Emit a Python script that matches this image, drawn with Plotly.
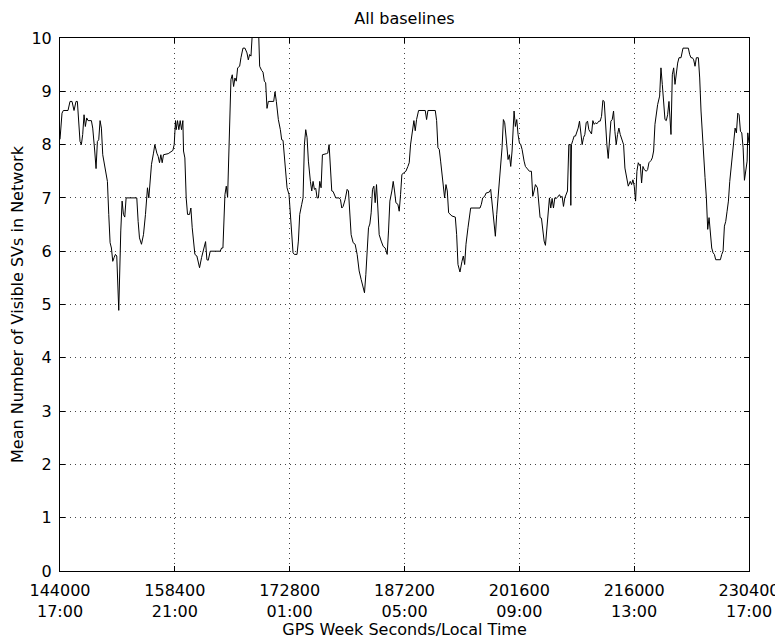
import plotly.graph_objects as go

# GPS week seconds (x) and mean number of visible SVs (y)
gps_sec = [
    144000, 144251, 144419, 145005, 145256, 145508, 145759, 146010, 146177, 146345,
    146512, 146680, 146847, 147015, 147182, 147350, 147517, 147936, 148103, 148355,
    148522, 148690, 148857, 149025, 149192, 149360, 149695, 149946, 150113, 150281,
    150448, 150616, 150783, 150951, 151118, 151369, 151621, 151788, 151956, 152123,
    152291, 153630, 153798, 153965, 154217, 154468, 154719, 154970, 155138, 155305,
    155473, 155724, 155891, 156143, 156310, 156478, 156645, 156813, 156980, 157566,
    157817, 158152, 158320, 158487, 158569, 158737, 158904, 159072, 159239, 159407,
    159490, 159658, 159825, 159993, 160244, 160412, 160579, 160746, 160914, 161165,
    161333, 161500, 161751, 162002, 162254, 162421, 162589, 162840, 164098, 164263,
    164431, 164682, 164850, 165017, 165436, 165603, 165771, 165938, 166106, 166273,
    166525, 166692, 166943, 167194, 167446, 167613, 167781, 167948, 168199, 168869,
    169037, 169288, 169455, 169623, 169790, 169958, 170125, 170795, 170962, 171130,
    171381, 171632, 171800, 171967, 172135, 172302, 172470, 172721, 173055, 173223,
    173390, 173725, 173893, 174060, 174312, 174479, 174647, 174814, 174982, 175149,
    175400, 175568, 175735, 175903, 176070, 176238, 176405, 176573, 176740, 176908,
    177410, 177577, 177745, 177912, 178080, 178247, 178415, 178582, 179001, 179169,
    179336, 179503, 179755, 180006, 180173, 180341, 180508, 180760, 181011, 181262,
    181513, 181764, 182016, 182183, 182351, 182518, 182686, 182853, 183021, 183188,
    183356, 183523, 183690, 183858, 184025, 184277, 184528, 184779, 185030, 185198,
    185365, 185616, 185784, 185951, 186119, 186370, 186537, 186705, 186872, 187124,
    187375, 187625, 187793, 187960, 188212, 188379, 188547, 188714, 188965, 189803,
    189970, 190138, 191059, 191226, 191394, 191561, 191729, 191980, 192231, 192399,
    192566, 192734, 192901, 193152, 193571, 193739, 193906, 194157, 194408, 194576,
    194743, 194911, 195162, 195330, 195497, 196669, 196837, 197004, 197256, 197423,
    197842, 198009, 198260, 198428, 198595, 198763, 198930, 199182, 199433, 199600,
    199768, 200019, 200186, 200354, 200521, 200689, 200856, 200940, 201107, 201275,
    201442, 201610, 201777, 201945, 202196, 202362, 202529, 202697, 202864, 203116,
    203283, 203451, 203618, 203869, 204037, 204204, 204372, 204539, 204707, 204874,
    205042, 205209, 205377, 205544, 205712, 205879, 206047, 206214, 206381, 206633,
    206800, 206968, 207135, 207303, 207470, 207638, 207805, 207973, 208056, 208140,
    208307, 208475, 208642, 208810, 208977, 209145, 209312, 209480, 209647, 209815,
    209982, 210150, 210317, 210485, 210652, 210820, 210987, 211155, 211322, 211573,
    211741, 211908, 212076, 212243, 212411, 212578, 212746, 212913, 213081, 213248,
    213416, 213583, 213751, 213918, 214086, 214253, 214504, 214672, 214839, 215007,
    215258, 215509, 215677, 215844, 216012, 216179, 216347, 216514, 216682, 216764,
    216932, 217099, 217267, 217518, 217686, 217853, 218104, 218272, 218439, 218607,
    218774, 218942, 219193, 219360, 219528, 219695, 219863, 220030, 220198, 220365,
    220533, 220617, 220784, 220952, 221119, 221287, 221454, 221621, 221873, 222124,
    222794, 222961, 223129, 223296, 223464, 223631, 223799, 224050, 224217, 224385,
    224552, 224720, 224887, 225055, 225222, 225390, 225557, 225725, 225892, 226060,
    226227, 226813, 226981, 227148, 227316, 227483, 227651, 227818, 227986, 228153,
    228321, 228488, 228656, 228823, 228991, 229158, 229326, 229493, 229661, 229828,
    229996, 230163, 230247, 230400,
]
mean_svs = [
    8.10, 8.59, 8.64, 8.64, 8.81, 8.81, 8.64, 8.81, 8.81, 8.44,
    8.06, 8.00, 8.19, 8.56, 8.34, 8.50, 8.45, 8.45, 8.31, 7.88,
    7.55, 8.06, 8.09, 8.45, 8.31, 7.81, 7.50, 7.31, 6.69, 6.16,
    6.06, 5.81, 5.88, 5.94, 5.91, 4.89, 6.38, 6.94, 6.69, 6.64,
    7.00, 7.00, 6.56, 6.25, 6.13, 6.31, 6.69, 7.19, 7.00, 7.31,
    7.63, 7.84, 8.00, 7.84, 7.78, 7.66, 7.81, 7.66, 7.81, 7.83,
    7.86, 7.89, 8.00, 8.45, 8.28, 8.45, 8.28, 8.45, 8.28, 8.45,
    7.88, 7.75, 7.00, 6.69, 6.69, 6.81, 6.44, 6.19, 5.94, 5.91,
    5.81, 5.69, 5.88, 6.03, 6.18, 5.84, 5.83, 6.00, 6.00, 6.06,
    6.06, 7.06, 7.22, 7.01, 9.22, 9.31, 9.09, 9.25, 9.19, 9.44,
    9.47, 9.63, 9.81, 9.81, 9.72, 9.59, 9.69, 9.66, 10.30, 10.30,
    9.47, 9.39, 9.36, 9.19, 9.16, 8.68, 8.81, 8.81, 8.99, 8.81,
    8.47, 8.28, 8.09, 8.08, 7.75, 7.44, 7.19, 7.06, 6.31, 5.97,
    5.94, 5.94, 6.19, 6.69, 6.88, 7.00, 8.00, 8.28, 8.13, 7.69,
    7.31, 7.13, 7.31, 7.16, 7.18, 7.00, 7.00, 7.31, 7.19, 7.81,
    7.83, 7.84, 8.00, 7.56, 7.13, 7.12, 7.06, 7.00, 7.00, 6.97,
    6.81, 6.84, 6.97, 7.16, 7.13, 6.75, 6.31, 6.16, 6.13, 5.94,
    5.63, 5.47, 5.31, 5.22, 5.56, 6.06, 6.44, 6.51, 6.72, 7.16,
    7.22, 6.91, 7.25, 6.81, 6.31, 6.19, 6.09, 6.06, 5.94, 6.38,
    6.94, 7.13, 7.31, 7.13, 6.91, 6.88, 6.75, 7.06, 7.44, 7.47,
    7.50, 7.59, 7.66, 8.00, 8.33, 8.45, 8.26, 8.47, 8.64, 8.64,
    8.47, 8.64, 8.64, 8.45, 7.94, 7.91, 7.69, 7.31, 7.00, 7.25,
    7.13, 6.72, 6.69, 6.66, 6.64, 6.31, 5.75, 5.61, 5.81, 5.91,
    5.75, 6.13, 6.44, 6.63, 6.81, 6.81, 6.88, 7.00, 7.03, 7.09,
    7.11, 7.16, 6.81, 6.50, 6.28, 6.69, 7.00, 7.38, 7.94, 8.47,
    8.41, 8.00, 7.72, 7.81, 7.59, 7.88, 8.31, 8.63, 8.34, 8.47,
    8.19, 8.03, 8.00, 7.91, 7.69, 7.59, 7.56, 7.53, 7.50, 7.50,
    7.03, 7.13, 7.25, 7.19, 6.94, 6.63, 6.62, 6.38, 6.19, 6.11,
    6.44, 6.81, 7.00, 6.81, 6.99, 6.81, 7.00, 6.99, 7.01, 7.06,
    7.01, 7.03, 6.84, 7.00, 7.06, 7.13, 8.00, 8.00, 6.86, 8.00,
    8.08, 8.16, 8.16, 8.22, 8.31, 8.44, 8.19, 8.00, 8.13, 8.19,
    8.41, 8.44, 8.28, 8.25, 8.20, 8.45, 8.38, 8.41, 8.39, 8.44,
    8.44, 8.53, 8.83, 8.81, 8.34, 8.00, 7.74, 8.19, 8.44, 8.47,
    8.63, 8.25, 8.00, 8.19, 8.31, 8.19, 8.09, 8.00, 7.56, 7.44,
    7.22, 7.31, 7.25, 7.34, 7.22, 6.94, 7.50, 7.66, 7.61, 7.63,
    7.28, 7.59, 7.53, 7.50, 7.53, 7.66, 7.70, 7.75, 7.88, 8.38,
    8.63, 8.75, 8.91, 9.44, 9.13, 8.69, 8.47, 8.45, 8.56, 8.81,
    8.50, 8.19, 9.31, 9.44, 9.13, 9.38, 9.53, 9.63, 9.63, 9.81,
    9.81, 9.69, 9.63, 9.63, 9.59, 9.47, 9.63, 9.63, 9.25, 8.63,
    8.13, 7.81, 7.38, 7.00, 6.41, 6.63, 6.28, 6.06, 5.97, 5.94,
    5.84, 5.84, 5.94, 6.00, 6.47, 6.56, 6.75, 6.94, 7.31, 7.56,
    7.81, 8.13, 8.31, 8.22, 8.59, 8.56, 8.25, 8.22, 7.94, 7.33,
    7.56, 7.69, 8.22, 8.03,
]

x_ticks = [144000, 158400, 172800, 187200, 201600, 216000, 230400]
x_labels = ["144000<br>17:00", "158400<br>21:00", "172800<br>01:00", "187200<br>05:00",
            "201600<br>09:00", "216000<br>13:00", "230400<br>17:00"]
y_ticks = [0, 1, 2, 3, 4, 5, 6, 7, 8, 9, 10]

FONT = "DejaVu Sans, Liberation Sans, Arial, sans-serif"
FS = 16

fig = go.Figure()
fig.add_trace(go.Scatter(x=gps_sec, y=mean_svs, mode="lines",
                         line=dict(color="black", width=1), showlegend=False))

axis_common = dict(showline=True, linecolor="black", linewidth=1, mirror="ticks",
                   ticks="inside", ticklen=5, tickcolor="black", tickwidth=1,
                   showgrid=True, gridcolor="#444444", gridwidth=1, griddash="1px,4px",
                   zeroline=False, automargin=False,
                   tickfont=dict(size=FS, color="black"))

fig.update_xaxes(range=[144000, 230400], tickvals=x_ticks, ticktext=x_labels,
                 ticklabelstandoff=5, ticklabeloverflow="allow",
                 title=dict(text="GPS Week Seconds/Local Time", font=dict(size=FS, color="black"),
                            standoff=3),
                 **axis_common)
fig.update_yaxes(range=[0, 10], tickvals=y_ticks, ticklabelstandoff=4,
                 title=dict(text="Mean Number of Visible SVs in Network",
                            font=dict(size=FS, color="black"), standoff=4),
                 **axis_common)

# the page body adds an 8px offset, so the figure is sized to end at the window edge
fig.update_layout(
    width=775, height=631,
    margin=dict(l=52, r=34, t=30, b=68),
    paper_bgcolor="white", plot_bgcolor="white",
    font=dict(family=FONT, size=FS, color="black"),
    title=dict(text="All baselines", x=0.5, xanchor="center", xref="paper",
               y=0.983, yanchor="middle", font=dict(size=FS, color="black")),
)

fig.write_html("out.html")
